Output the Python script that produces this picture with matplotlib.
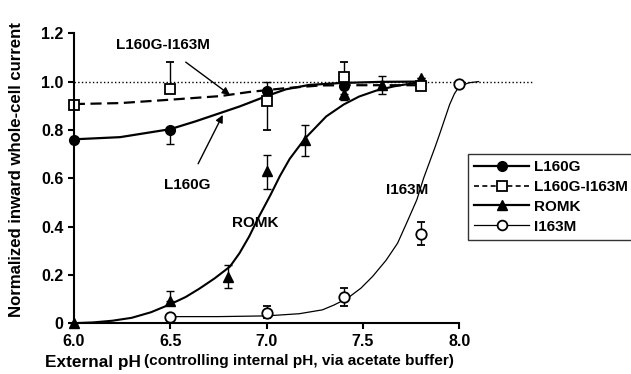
import numpy as np
import matplotlib.pyplot as plt
from matplotlib.lines import Line2D

plt.rcParams['font.family'] = ['Liberation Sans', 'DejaVu Sans']
plt.rcParams['font.weight'] = 'bold'

# measured points (pH, normalized current, lower / upper error)
ph_l160g = [6.0, 6.5, 7.0, 7.4]
l160g = [0.76, 0.80, 0.96, 0.98]
l160g_lo = [0, 0.06, 0, 0]
l160g_hi = [0, 0, 0.04, 0]

ph_dbl = [6.0, 6.5, 7.0, 7.4, 7.8]
dbl = [0.905, 0.97, 0.92, 1.02, 0.98]
dbl_lo = [0, 0, 0.12, 0, 0]
dbl_hi = [0, 0.11, 0, 0.06, 0]

ph_romk = [6.0, 6.5, 6.8, 7.0, 7.2, 7.4, 7.6, 7.8]
romk = [0.0, 0.09, 0.19, 0.63, 0.76, 0.95, 0.985, 1.015]
romk_lo = [0, 0, 0.045, 0.075, 0.07, 0.025, 0.035, 0]
romk_hi = [0, 0.045, 0.05, 0.065, 0.06, 0, 0.04, 0]

ph_i163m = [6.5, 7.0, 7.4, 7.8, 8.0]
i163m = [0.027, 0.04, 0.108, 0.37, 0.99]
i163m_lo = [0, 0.02, 0.035, 0.048, 0]
i163m_hi = [0, 0.03, 0.037, 0.047, 0]

# fitted curves
l160g_fit_x = [6.0, 6.24, 6.5, 6.63, 6.76, 6.86, 7.0, 7.1, 7.22, 7.38, 7.6, 7.8]
l160g_fit_y = [0.761, 0.770, 0.803, 0.835, 0.870, 0.897, 0.940, 0.968, 0.986, 0.994, 0.999, 1.0]

dbl_fit_x = [6.0, 6.24, 6.5, 6.76, 6.91, 7.1, 7.28, 7.4, 7.8]
dbl_fit_y = [0.907, 0.911, 0.925, 0.940, 0.957, 0.973, 0.984, 0.985, 0.985]

romk_fit_x = [6.0, 6.1, 6.2, 6.3, 6.4, 6.5, 6.58, 6.65, 6.73, 6.81, 6.86, 6.91, 6.96,
              7.02, 7.07, 7.12, 7.2, 7.31, 7.4, 7.48, 7.57, 7.66, 7.78]
romk_fit_y = [0.0, 0.003, 0.01, 0.022, 0.045, 0.078, 0.108, 0.142, 0.185, 0.234, 0.29, 0.359, 0.44,
              0.53, 0.61, 0.68, 0.765, 0.856, 0.905, 0.938, 0.963, 0.98, 0.996]

i163m_fit_x = [6.5, 6.75, 7.0, 7.17, 7.29, 7.35, 7.42, 7.49, 7.55, 7.62, 7.68, 7.73, 7.78,
               7.815, 7.85, 7.875, 7.9, 7.95, 7.975, 8.0, 8.05, 8.1]
i163m_fit_y = [0.027, 0.027, 0.03, 0.039, 0.055, 0.075, 0.103, 0.145, 0.193, 0.26, 0.331, 0.42, 0.511,
               0.6, 0.676, 0.73, 0.787, 0.905, 0.95, 0.98, 0.995, 1.0]

fig = plt.figure(figsize=(6.31, 3.74), dpi=100)
ax = fig.add_axes([0.117, 0.136, 0.733, 0.775])

ax.plot([6.0, 8.38], [1.0, 1.0], ls=':', color='black', lw=1, clip_on=False)

ax.plot(l160g_fit_x, l160g_fit_y, color='black', lw=1.6)
ax.plot(dbl_fit_x, dbl_fit_y, color='black', lw=1.6, ls=(0, (5, 2.5)))
ax.plot(romk_fit_x, romk_fit_y, color='black', lw=1.5)
ax.plot(i163m_fit_x, i163m_fit_y, color='black', lw=0.9)

ekw = dict(ls='none', ecolor='black', elinewidth=1, capsize=3, capthick=1, clip_on=False)
ax.errorbar(ph_l160g, l160g, yerr=[l160g_lo, l160g_hi], marker='o', ms=7,
            mfc='black', mec='black', **ekw)
ax.errorbar(ph_romk, romk, yerr=[romk_lo, romk_hi], marker='^', ms=7.5,
            mfc='black', mec='black', **ekw)
ax.errorbar(ph_dbl, dbl, yerr=[dbl_lo, dbl_hi], marker='s', ms=7.8,
            mfc='white', mec='black', mew=1.3, **ekw)
ax.errorbar(ph_i163m, i163m, yerr=[i163m_lo, i163m_hi], marker='o', ms=7.5,
            mfc='white', mec='black', mew=1.3, **ekw)

ax.set_xlim(6.0, 8.4)
ax.set_ylim(0, 1.2)
ax.set_xticks([6.0, 6.5, 7.0, 7.5, 8.0])
ax.set_xticklabels(['6.0', '6.5', '7.0', '7.5', '8.0'])
ax.set_yticks([0, 0.2, 0.4, 0.6, 0.8, 1.0, 1.2])
ax.set_yticklabels(['0', '0.2', '0.4', '0.6', '0.8', '1.0', '1.2'])
ax.tick_params(labelsize=11.5, width=1.5, length=4)
ax.spines['top'].set_visible(False)
ax.spines['right'].set_visible(False)
ax.spines['left'].set_linewidth(1.5)
ax.spines['bottom'].set_linewidth(1.5)
ax.spines['bottom'].set_bounds(6.0, 8.0)

ax.set_ylabel('Normalized inward whole-cell current', fontsize=12.1, fontweight='bold')
ax.yaxis.set_label_coords(-0.108, 0.53)
fig.text(0.071, 0.02, 'External pH', fontsize=12.4, fontweight='bold')
fig.text(0.229, 0.024, '(controlling internal pH, via acetate buffer)', fontsize=11.1, fontweight='bold')

ax.annotate('L160G-I163M', xy=(6.81, 0.945), xytext=(6.46, 1.152), fontsize=11,
            fontweight='bold', ha='center', va='center',
            arrowprops=dict(arrowstyle='-|>', color='black', lw=1, shrinkA=9, shrinkB=0))
ax.annotate('L160G', xy=(6.773, 0.862), xytext=(6.59, 0.573), fontsize=11,
            fontweight='bold', ha='center', va='center',
            arrowprops=dict(arrowstyle='-|>', color='black', lw=1, shrinkA=9, shrinkB=0))
ax.text(6.94, 0.415, 'ROMK', fontsize=11, fontweight='bold', ha='center', va='center')
ax.text(7.73, 0.55, 'I163M', fontsize=11, fontweight='bold', ha='center', va='center')

handles = [
    Line2D([], [], color='black', lw=1.6, marker='o', ms=7, mfc='black'),
    Line2D([], [], color='black', lw=1.2, ls=(0, (3, 2)), marker='s', ms=7.5, mfc='white', mew=1.3),
    Line2D([], [], color='black', lw=1.6, marker='^', ms=7, mfc='black'),
    Line2D([], [], color='black', lw=0.9, marker='o', ms=7, mfc='white', mew=1.3),
]
labels = ['L160G', 'L160G-I163M', 'ROMK', 'I163M']
leg = fig.legend(handles, labels, loc='upper left', bbox_to_anchor=(468 / 631, 1 - 154 / 374),
                 frameon=True, fancybox=False, edgecolor='black', fontsize=11,
                 handlelength=3.6, labelspacing=0.38, borderpad=0.4, handletextpad=0.3,
                 borderaxespad=0)
leg.get_frame().set_linewidth(1)

fig.savefig('out.png', dpi=100)
